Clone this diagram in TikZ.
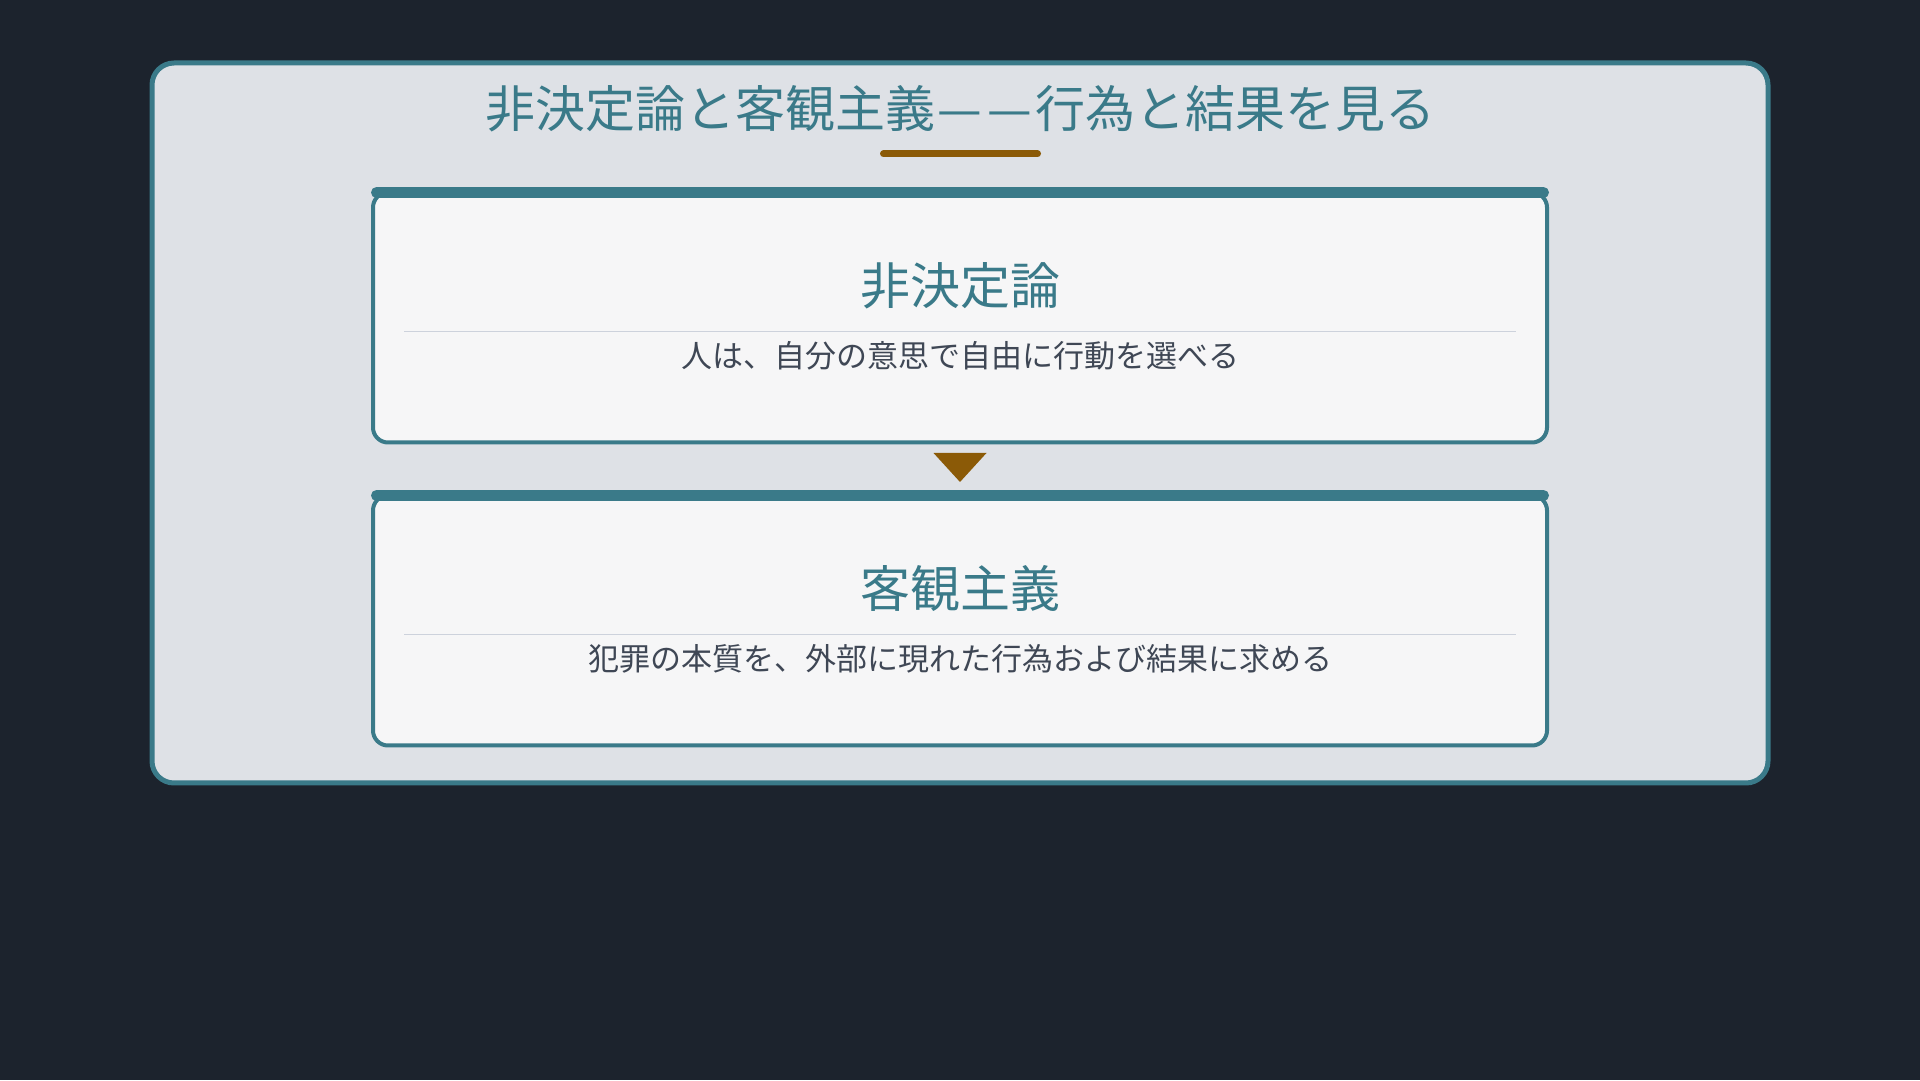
\documentclass[tikz,border=0pt]{standalone}
\usepackage{fontspec}
\setmainfont{Noto Sans CJK JP}
\usetikzlibrary{positioning,calc}
\definecolor{bgdark}{HTML}{1C232D}
\definecolor{panelgray}{HTML}{DEE1E6}
\definecolor{cardwhite}{HTML}{F6F6F7}
\definecolor{tealline}{HTML}{3A7A89}
\definecolor{ochre}{HTML}{8B5A07}
\definecolor{rulegray}{HTML}{CDD2DC}
\definecolor{textgray}{HTML}{3F4755}
\newcommand{\widedash}{\makebox[1em]{—}\makebox[1em]{—}}
\tikzset{
  panel/.style={draw=tealline, line width=5pt, fill=panelgray, rounded corners=22pt},
  card/.style={draw=tealline, line width=4pt, fill=cardwhite, rounded corners=15pt,
    minimum width=1174pt, minimum height=250pt, inner sep=0pt, outer sep=0pt},
  topbar/.style={draw=tealline, line width=11pt, line cap=round},
  cardname/.style={text=tealline, font=\fontsize{50}{60}\selectfont, inner sep=0pt},
  carddesc/.style={text=textgray, font=\fontsize{31}{37}\selectfont, inner sep=0pt},
  divider/.style={draw=rulegray, line width=1.5pt},
}
\begin{document}
\begin{tikzpicture}[x=1pt,y=1pt]
\fill[bgdark] (0,0) rectangle (1920,1080);
\useasboundingbox (0,0) rectangle (1920,1080);
\draw[panel] (152,297) rectangle (1768,1017);
\node[cardname] (heading) at (960,971) {非決定論と客観主義\widedash 行為と結果を見る};
\draw[ochre, line width=7pt, line cap=round] (883.5,926) -- (1037.5,926);
% first card
\node[card] (det) at (960,762.5) {};
\draw[topbar] ([xshift=3.5pt]det.north west) -- ([xshift=-3.5pt]det.north east);
\node[cardname] (detname) at ([yshift=-93pt]det.north) {非決定論};
\draw[divider] ([xshift=31pt,yshift=-139pt]det.north west) -- ([xshift=-31pt,yshift=-139pt]det.north east);
\node[carddesc] (detdesc) at ([yshift=-163pt]det.north) {人は、自分の意思で自由に行動を選べる};
% second card
\node[card, below=53pt of det] (obj) {};
\draw[topbar] ([xshift=3.5pt]obj.north west) -- ([xshift=-3.5pt]obj.north east);
\node[cardname] (objname) at ([yshift=-93pt]obj.north) {客観主義};
\draw[divider] ([xshift=31pt,yshift=-139pt]obj.north west) -- ([xshift=-31pt,yshift=-139pt]obj.north east);
\node[carddesc] (objdesc) at ([yshift=-163pt]obj.north) {犯罪の本質を、外部に現れた行為および結果に求める};
% marker between the cards
\fill[ochre] ([xshift=-26.5pt,yshift=-10.5pt]det.south) -- ([xshift=26.5pt,yshift=-10.5pt]det.south) -- ([yshift=13.5pt]obj.north) -- cycle;
\end{tikzpicture}
\end{document}
